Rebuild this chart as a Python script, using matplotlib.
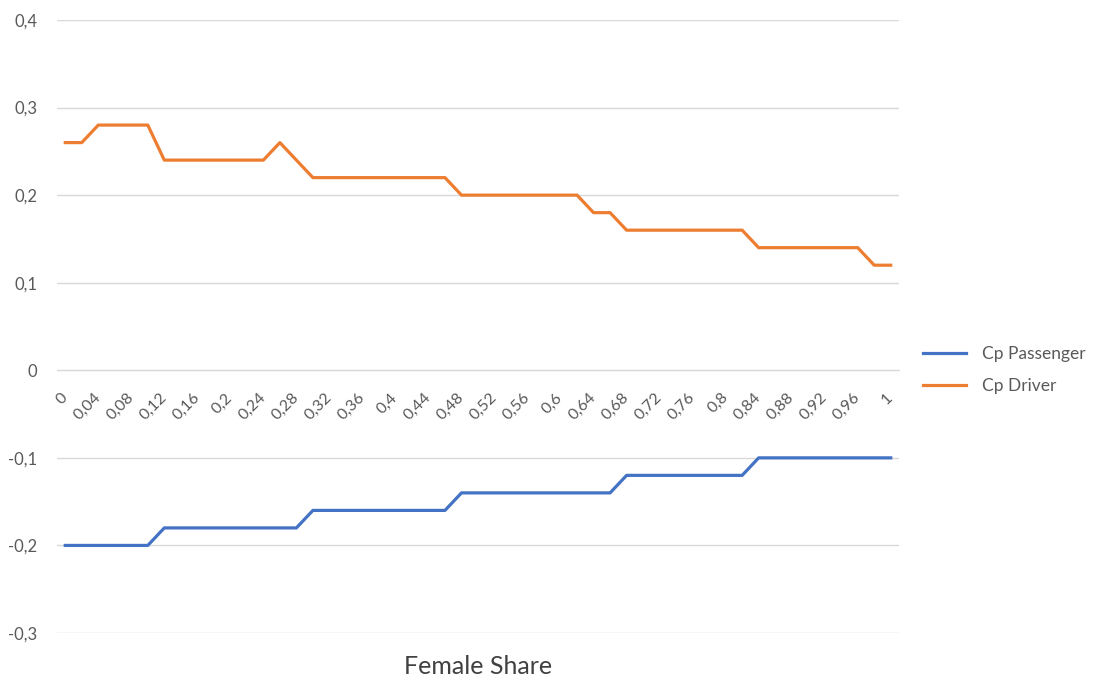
import matplotlib
matplotlib.use('Agg')
import matplotlib.pyplot as plt

plt.rcParams['font.family'] = ['Lato', 'DejaVu Sans']

# Female share categories (x axis)
female_share = [0, 0.02, 0.04, 0.06, 0.08, 0.1, 0.12, 0.14, 0.16, 0.18,
                0.2, 0.22, 0.24, 0.26, 0.28, 0.3, 0.32, 0.34, 0.36, 0.38,
                0.4, 0.42, 0.44, 0.46, 0.48, 0.5, 0.52, 0.54, 0.56, 0.58,
                0.6, 0.62, 0.64, 0.66, 0.68, 0.7, 0.72, 0.74, 0.76, 0.78,
                0.8, 0.82, 0.84, 0.86, 0.88, 0.9, 0.92, 0.94, 0.96, 0.98, 1]

cp_passenger = [-0.20, -0.20, -0.20, -0.20, -0.20, -0.20,
                -0.18, -0.18, -0.18, -0.18, -0.18, -0.18, -0.18, -0.18, -0.18,
                -0.16, -0.16, -0.16, -0.16, -0.16, -0.16, -0.16, -0.16, -0.16,
                -0.14, -0.14, -0.14, -0.14, -0.14, -0.14, -0.14, -0.14, -0.14, -0.14,
                -0.12, -0.12, -0.12, -0.12, -0.12, -0.12, -0.12, -0.12,
                -0.10, -0.10, -0.10, -0.10, -0.10, -0.10, -0.10, -0.10, -0.10]

cp_driver = [0.26, 0.26,
             0.28, 0.28, 0.28, 0.28,
             0.24, 0.24, 0.24, 0.24, 0.24, 0.24, 0.24,
             0.26, 0.24,
             0.22, 0.22, 0.22, 0.22, 0.22, 0.22, 0.22, 0.22, 0.22,
             0.20, 0.20, 0.20, 0.20, 0.20, 0.20, 0.20, 0.20,
             0.18, 0.18,
             0.16, 0.16, 0.16, 0.16, 0.16, 0.16, 0.16, 0.16,
             0.14, 0.14, 0.14, 0.14, 0.14, 0.14, 0.14,
             0.12, 0.12]

y_ticks = [-0.3, -0.2, -0.1, 0, 0.1, 0.2, 0.3, 0.4]


def comma(v):
    s = ('%g' % v)
    return s.replace('.', ',')


fig = plt.figure(figsize=(10.93, 6.81), dpi=100)
ax = fig.add_axes([57 / 1093, 48 / 681, 842 / 1093, 613 / 681])

pos = list(range(len(female_share)))
ax.plot(pos, cp_passenger, color='#4472C4', lw=2.3, label='Cp Passenger',
        solid_joinstyle='round')
ax.plot(pos, cp_driver, color='#ED7D31', lw=2.3, label='Cp Driver',
        solid_joinstyle='round')

ax.set_xlim(-0.5, len(female_share) - 0.5)
ax.set_ylim(-0.3, 0.4)

# y axis
ax.set_yticks(y_ticks)
ax.set_yticklabels([comma(v) for v in y_ticks])
ax.yaxis.grid(True, color='#d9d9d9', lw=1)
ax.set_axisbelow(True)

# category axis crossing at zero
for s in ['top', 'right', 'left']:
    ax.spines[s].set_visible(False)
ax.spines['bottom'].set_position(('data', 0))
ax.spines['bottom'].set_color('#d9d9d9')

tick_pos = pos[::2]
ax.set_xticks(tick_pos)
ax.set_xticklabels([comma(female_share[i]) for i in tick_pos], rotation=45,
                   ha='right', va='center', rotation_mode='anchor')
ax.tick_params(axis='x', length=0, pad=18, labelsize=11.5, labelcolor='#595959')
ax.tick_params(axis='y', length=0, pad=14, labelsize=12, labelcolor='#595959')

fig.text(478 / 1093, 1 - 667 / 681, 'Female Share', ha='center', va='center',
         fontsize=18, color='#404040')

fig.legend(loc='center left', bbox_to_anchor=(914 / 1093, 1 - 370 / 681),
           frameon=False, fontsize=12.5, handlelength=2.5, handletextpad=0.9,
           labelspacing=0.9, borderpad=0, labelcolor='#595959')

fig.savefig('out.png', dpi=100)
